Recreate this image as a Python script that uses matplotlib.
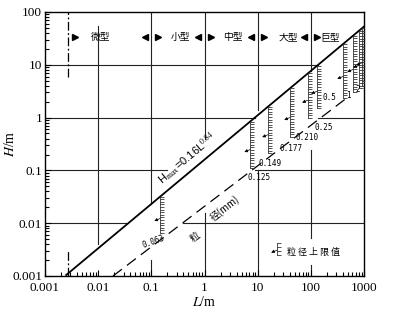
import matplotlib

matplotlib.use("Agg")

import matplotlib.pyplot as plt
import numpy as np
from matplotlib.ticker import FixedFormatter, FixedLocator, LogLocator, NullFormatter

plt.rcParams["font.family"] = ["Liberation Serif", "Noto Sans CJK SC", "DejaVu Sans"]
plt.rcParams["mathtext.fontset"] = "stix"

# ============================================================
# Data
# ============================================================

# envelope H_max = a * L^b
env_a = 0.16
env_b = 0.84
env_L = [0.0025, 1000]

# grain size guide (dashed)
grain_L = [0.019, 500]
grain_H = [0.001, 2.45]

# grain size upper-limit markers
marker_L = [0.146, 7.2, 15.6, 40.5, 88, 130, 403, 621, 805, 917]
marker_H_low = [0.0065, 0.11, 0.21, 0.43, 0.98, 1.5, 2.35, 3.05, 3.6, 4.0]
marker_labels = ["0.063", "0.125", "0.149", "0.177", "0.210", "0.25", "0.5", "1", "2", ""]

# size classes
class_names = ["微型", "小型", "中型", "大型", "巨型"]
class_bounds = [0.0027, 0.1, 1, 10, 100]
class_label_L = [0.011, 0.35, 3.4, 37, 230]

ticks = [0.001, 0.01, 0.1, 1, 10, 100, 1000]
xtick_labels = ["0.001", "0.01", "0.1", "1", "10", "100", "1000"]
ytick_labels = ["0.001", "0.01", "0.1", "1", "10", "100"]

# ============================================================
# Style
# ============================================================

# partial grid lines (value, from, to)
vgrid = [
    (0.01, 0.004, 55),
    (0.1, 0.023, 100),
    (0.1, 0.001, 0.002),
    (1, 0.4, 100),
    (1, 0.001, 0.0156),
    (10, 1.4, 100),
    (10, 0.001, 0.1),
    (100, 7.7, 100),
    (100, 0.0052, 0.24),
    (100, 0.001, 0.0016),
]
hgrid = [
    (10, 0.001, 137),
    (1, 0.001, 8.87),
    (1, 137, 1000),
    (0.1, 0.001, 0.2),
    (0.1, 8.9, 1000),
    (0.01, 0.001, 0.037),
    (0.01, 0.39, 1000),
]

label_offsets = [
    (-5, -6.5), (6.5, -6.5), (1.5, -7), (0.7, -8.6), (-0.7, -13.7),
    (5, -13.7), (-10, 0.7), (-3.6, -2.2), (-0.7, -0.7), (0, 0),
]

PX = 52.8  # pixels per decade


def hatched(ax, L, top, bottom):
    n = max(3, int(np.log10(top / bottom) * PX / 2.4))
    ys = np.geomspace(top, bottom, n)
    ax.plot([L, L], [top, bottom], color="#333333", lw=0.6, zorder=3)
    ax.plot(np.full(n, L), ys, ls="none", marker=1, ms=2.6, mew=0.6,
            color="#333333", zorder=3)
    ym = 10 ** (np.log10(top) + 0.6 * (np.log10(bottom) - np.log10(top)))
    ax.annotate("", xy=(L * 0.78, ym * 0.9), xytext=(L, ym),
                arrowprops=dict(arrowstyle="-|>", mutation_scale=4.5,
                                lw=0.5, color="black",
                                shrinkA=0, shrinkB=0),
                zorder=4)


# ============================================================
# Main
# ============================================================

def main():

    fig = plt.figure(figsize=(3.98, 3.12), dpi=100)
    ax = fig.add_axes([45 / 398, 1 - 276 / 312, 319 / 398, 264 / 312])

    ax.set_xscale("log")
    ax.set_yscale("log")
    ax.set_xlim(0.001, 1000)
    ax.set_ylim(0.001, 100)

    for x, y0, y1 in vgrid:
        ax.plot([x, x], [y0, y1], color="#222222", lw=0.8, zorder=1)
    for y, x0, x1 in hgrid:
        ax.plot([x0, x1], [y, y], color="#222222", lw=0.8, zorder=1)

    # class boundary (dash-dot)
    for y0, y1 in [(6, 100), (0.001, 0.003)]:
        ax.plot([class_bounds[0]] * 2, [y0, y1], color="black", lw=0.9,
                ls=(0, (7, 2, 1.5, 2)), zorder=2)

    # envelope
    Ls = np.array(env_L)
    ax.plot(Ls, env_a * Ls ** env_b, color="black", lw=1.3, zorder=3)

    # grain guide
    ax.plot(grain_L, grain_H, color="black", lw=0.9, ls=(0, (9, 5)), zorder=2)

    for L, low, lab, (dx, dy) in zip(marker_L, marker_H_low, marker_labels, label_offsets):
        top = env_a * L ** env_b
        hatched(ax, L, top, low)
        if lab:
            ax.annotate(lab, xy=(L, low), xytext=(dx, dy),
                        textcoords="offset points", ha="center", va="center",
                        fontsize=5.5, family="DejaVu Sans Mono",
                        rotation=20 if lab == "0.063" else 0)

    # class labels with arrows
    yc = 33.6
    for i, (name, xl) in enumerate(zip(class_names, class_label_L)):
        ax.text(xl, yc, name, ha="center", va="center", fontsize=7,
                family=["Noto Sans CJK SC", "DejaVu Sans"])
        ax.plot(class_bounds[i] * 1.33, yc, marker=">", ms=4.5, color="black",
                ls="none", zorder=4)
        if i + 1 < len(class_bounds):
            ax.plot(class_bounds[i + 1] / 1.33, yc, marker="<", ms=4.5,
                    color="black", ls="none", zorder=4)

    # formula text
    ax.text(0.18, 0.16 * 0.18 ** 0.84 * 1.2, r"H$_{\rm max}$=0.16L$^{0.84}$",
            family="Liberation Sans", fontsize=8, rotation=40,
            rotation_mode="anchor", ha="left", va="bottom")

    # grain text along dashed line
    ax.text(0.66, 0.0055, "粒", rotation=38, ha="center", va="center",
            fontsize=7, family=["Noto Sans CJK SC", "DejaVu Sans"])
    ax.text(2.43, 0.0195, "径(mm)", rotation=38, ha="center", va="center",
            fontsize=7, family=["Noto Sans CJK SC", "DejaVu Sans"])

    # legend
    hatched(ax, 23, 0.0042, 0.0025)
    ax.text(35.6, 0.00285, "粒 径 上 限 值", ha="left", va="center",
            fontsize=6.5, family=["Noto Sans CJK SC", "DejaVu Sans"])

    # axes styling
    for side in ["top", "right", "left", "bottom"]:
        ax.spines[side].set_linewidth(1.0)

    ax.xaxis.set_major_locator(FixedLocator(ticks))
    ax.xaxis.set_major_formatter(FixedFormatter(xtick_labels))
    ax.yaxis.set_major_locator(FixedLocator(ticks[:-1]))
    ax.yaxis.set_major_formatter(FixedFormatter(ytick_labels))
    ax.xaxis.set_minor_locator(LogLocator(base=10, subs=np.arange(2, 10)))
    ax.yaxis.set_minor_locator(LogLocator(base=10, subs=np.arange(2, 10)))
    ax.xaxis.set_minor_formatter(NullFormatter())
    ax.yaxis.set_minor_formatter(NullFormatter())

    ax.tick_params(which="both", direction="in", top=False, right=False,
                   labelsize=9.5, width=0.8)
    ax.tick_params(which="major", length=4)
    ax.tick_params(which="minor", length=3)
    ax.tick_params(axis="x", pad=4)
    ax.tick_params(axis="y", pad=2)

    ax.set_xlabel(r"$L$/m", fontsize=10, labelpad=1)
    ax.set_ylabel(r"$H$/m", fontsize=10)
    ax.yaxis.set_label_coords(-28 / 319, 0.5)

    fig.savefig("out.png", dpi=100)
    plt.close(fig)


if __name__ == "__main__":
    main()
